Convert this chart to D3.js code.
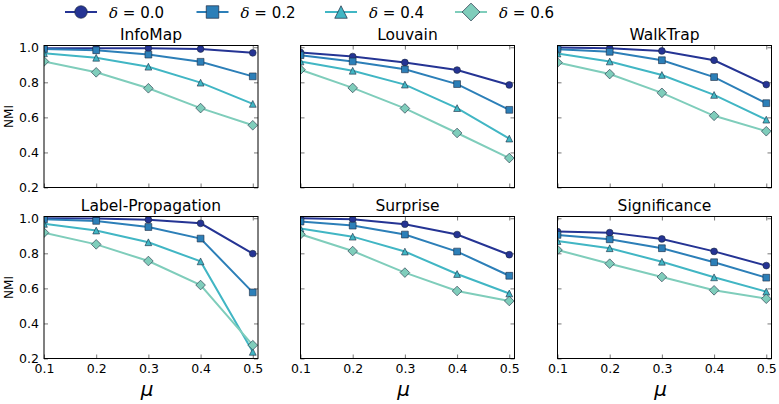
<!DOCTYPE html>
<html><head><meta charset="utf-8">
<script src="https://cdn.jsdelivr.net/npm/d3@7"></script>
<style>
html,body{margin:0;padding:0;background:#fff;}
svg text{font-family:"DejaVu Sans",sans-serif;fill:#000;}
</style></head>
<body>
<svg id="chart" width="779" height="404"></svg>
<script>
// ---- data ----
const muValues = [0.1, 0.2, 0.3, 0.4, 0.5];
const deltaLabels = ["0.0", "0.2", "0.4", "0.6"];
const methodNames = ["InfoMap", "Louvain", "WalkTrap", "Label-Propagation", "Surprise", "Significance"];
const xTicks = [0.1, 0.2, 0.3, 0.4, 0.5];
const yTicks = [0.2, 0.4, 0.6, 0.8, 1.0];

// rows: delta 0.0, 0.2, 0.4, 0.6 ; columns: mu 0.1..0.5
const infoMapNMI = [
  [0.994, 0.994, 0.995, 0.990, 0.968],
  [0.990, 0.983, 0.958, 0.917, 0.834],
  [0.966, 0.940, 0.889, 0.798, 0.677],
  [0.919, 0.857, 0.766, 0.653, 0.555]
];
const louvainNMI = [
  [0.970, 0.947, 0.913, 0.870, 0.785],
  [0.955, 0.919, 0.874, 0.790, 0.643],
  [0.919, 0.866, 0.787, 0.653, 0.479],
  [0.872, 0.768, 0.651, 0.511, 0.368]
];
const walkTrapNMI = [
  [0.998, 0.994, 0.979, 0.926, 0.787],
  [0.989, 0.974, 0.926, 0.830, 0.681],
  [0.964, 0.919, 0.842, 0.728, 0.587],
  [0.913, 0.847, 0.740, 0.609, 0.521]
];
const labelPropNMI = [
  [1.000, 0.998, 0.992, 0.971, 0.798],
  [0.994, 0.985, 0.950, 0.884, 0.577],
  [0.968, 0.930, 0.863, 0.754, 0.238],
  [0.918, 0.851, 0.756, 0.619, 0.276]
];
const surpriseNMI = [
  [1.000, 0.994, 0.966, 0.907, 0.792],
  [0.981, 0.958, 0.907, 0.810, 0.672],
  [0.941, 0.895, 0.810, 0.682, 0.571],
  [0.909, 0.813, 0.690, 0.585, 0.528]
];
const significanceNMI = [
  [0.924, 0.918, 0.882, 0.811, 0.730],
  [0.905, 0.880, 0.829, 0.749, 0.661],
  [0.870, 0.829, 0.752, 0.663, 0.581],
  [0.819, 0.741, 0.665, 0.589, 0.541]
];
const panelData = [infoMapNMI, louvainNMI, walkTrapNMI, labelPropNMI, surpriseNMI, significanceNMI];

// ---- styles ----
const colors = ["#253494", "#2c7fb8", "#41b6c4", "#7fcdbb"];
const markerTypes = ["circle", "square", "triangle", "diamond"];

function markerPath(type, s) {
  const h = s / 2;
  if (type === "circle") return d3.arc()({innerRadius:0, outerRadius:h, startAngle:0, endAngle:2*Math.PI});
  if (type === "square") return `M${-h},${-h}H${h}V${h}H${-h}Z`;
  if (type === "triangle") return `M0,${-h}L${h},${h}L${-h},${h}Z`;
  const d = h * 1.42;
  return `M0,${-d}L${d},0L0,${d}L${-d},0Z`;
}

const svg = d3.select("#chart");
const lefts = [44, 300.5, 557.5];
const tops = [45.5, 216.5];
const pw = 214, ph = 142;

const defs = svg.append("defs");

panelData.forEach((data, i) => {
  const col = i % 3, row = Math.floor(i / 3);
  const x0 = lefts[col], y0 = tops[row];
  const x = d3.scaleLinear().domain([0.1, 0.51]).range([x0, x0 + pw]);
  const y = d3.scaleLinear().domain([0.2, 1.01]).range([y0 + ph, y0]);
  const g = svg.append("g");

  defs.append("clipPath").attr("id", "clip" + i)
    .append("rect").attr("x", x0).attr("y", y0).attr("width", pw).attr("height", ph);

  // ticks (inward, all sides)
  const xb = d3.axisBottom(x).tickValues(xTicks).tickSizeInner(-4).tickSizeOuter(0)
    .tickPadding(6).tickFormat(row === 1 ? d3.format(".1f") : () => "");
  const xt = d3.axisTop(x).tickValues(xTicks).tickSizeInner(-4).tickSizeOuter(0).tickFormat(() => "");
  const yl = d3.axisLeft(y).tickValues(yTicks).tickSizeInner(-4).tickSizeOuter(0)
    .tickPadding(5).tickFormat(col === 0 ? d3.format(".1f") : () => "");
  const yr = d3.axisRight(y).tickValues(yTicks).tickSizeInner(-4).tickSizeOuter(0).tickFormat(() => "");

  [[xb, `translate(0,${y0 + ph})`], [xt, `translate(0,${y0})`], [yl, `translate(${x0},0)`], [yr, `translate(${x0 + pw},0)`]]
    .forEach(([ax, tr]) => {
      const a = g.append("g").attr("transform", tr).call(ax);
      a.select(".domain").remove();
      a.selectAll(".tick line").attr("stroke", "#555").attr("stroke-width", 0.8);
      a.selectAll(".tick text").attr("font-size", 12.5).attr("font-family", "DejaVu Sans").attr("fill", "#000");
    });

  const plot = g.append("g").attr("clip-path", `url(#clip${i})`);
  const line = d3.line().x((d, k) => x(muValues[k])).y(d => y(d));
  data.forEach((series, s) => {
    plot.append("path").attr("d", line(series)).attr("fill", "none")
      .attr("stroke", colors[s]).attr("stroke-width", 2);
  });
  data.forEach((series, s) => {
    plot.selectAll(null).data(series).enter().append("path")
      .attr("transform", (d, k) => `translate(${x(muValues[k])},${y(d)})`)
      .attr("d", markerPath(markerTypes[s], 6.8))
      .attr("fill", colors[s]).attr("stroke", "#1c2a40").attr("stroke-width", 0.6);
  });

  g.append("rect").attr("x", x0).attr("y", y0).attr("width", pw).attr("height", ph)
    .attr("fill", "none").attr("stroke", "#000").attr("stroke-width", 1);

  g.append("text").attr("x", x0 + pw / 2).attr("y", y0 - 5.5).attr("text-anchor", "middle")
    .attr("font-size", 15.5).text(methodNames[i]);

  if (col === 0) {
    g.append("text").attr("transform", `translate(12.5,${y0 + ph / 2}) rotate(-90)`)
      .attr("text-anchor", "middle").attr("font-size", 12).text("NMI");
  }
  if (row === 1) {
    g.append("text").attr("x", x0 + pw / 2 - 4).attr("y", 396).attr("text-anchor", "middle")
      .attr("font-size", 20).attr("font-style", "italic").attr("font-family", "DejaVu Sans").text("μ");
  }
});

// ---- legend ----
const legendX = [65, 196.5, 325, 455];
deltaLabels.forEach((lab, s) => {
  const lg = svg.append("g").attr("transform", `translate(${legendX[s]},12)`);
  lg.append("line").attr("x1", 0).attr("x2", 32).attr("y1", 0).attr("y2", 0)
    .attr("stroke", colors[s]).attr("stroke-width", 2);
  lg.append("path").attr("transform", "translate(16,0)").attr("d", markerPath(markerTypes[s], 12.5))
    .attr("fill", colors[s]).attr("stroke", "#1c2a40").attr("stroke-width", 0.7);
  const t = lg.append("text").attr("x", 44).attr("y", 5.5).attr("font-size", 15);
  t.append("tspan").attr("font-style", "italic").attr("font-family", "DejaVu Serif").text("δ");
  t.append("tspan").text(" = " + lab);
});
</script>
</body></html>
